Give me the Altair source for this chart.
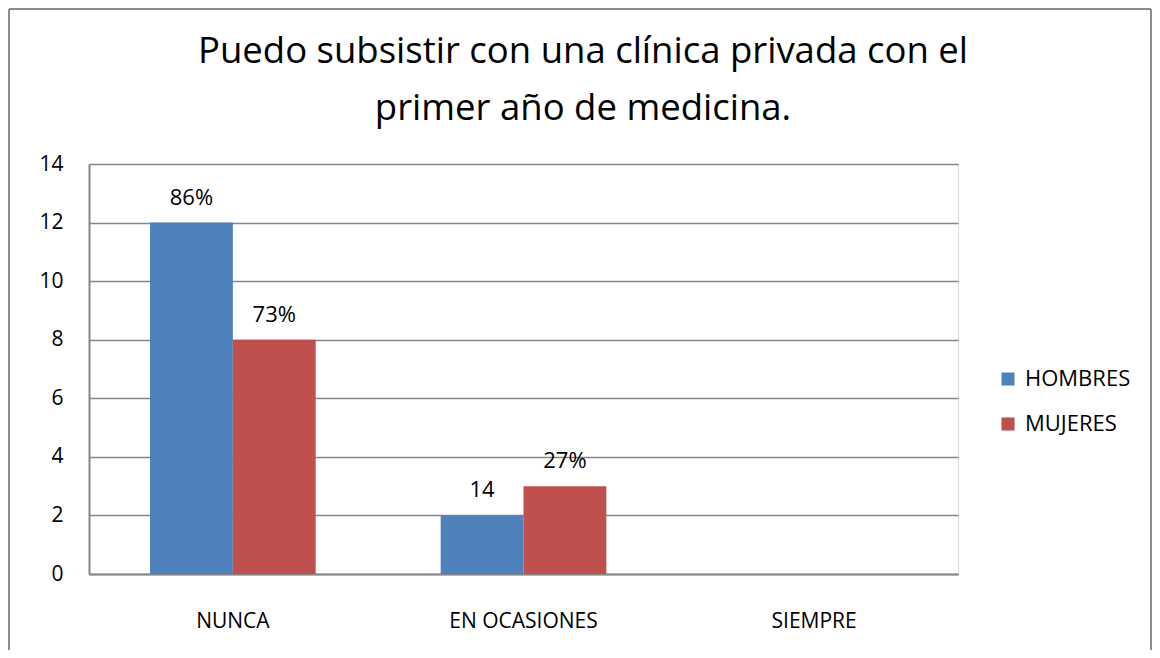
import altair as alt
import pandas as pd

categorias = ["NUNCA", "EN OCASIONES", "SIEMPRE"]
series = ["HOMBRES", "MUJERES"]
hombres = [12, 2, 0]
mujeres = [8, 3, 0]
etiquetas_hombres = ["86%", "14", ""]
etiquetas_mujeres = ["73%", "27%", ""]
colores = ["#4F81BD", "#C0504D"]
titulo = ["Puedo subsistir con una clínica privada con el", "primer año de medicina."]

filas = []
for i, c in enumerate(categorias):
    filas.append({"categoria": c, "serie": series[0], "valor": hombres[i], "etiqueta": etiquetas_hombres[i]})
    filas.append({"categoria": c, "serie": series[1], "valor": mujeres[i], "etiqueta": etiquetas_mujeres[i]})
df = pd.DataFrame(filas)

FONT = "Open Sans"
GRIS = "#878787"

base = alt.Chart(df).encode(
    x=alt.X(
        "categoria:N",
        sort=categorias,
        scale=alt.Scale(paddingInner=0.43, paddingOuter=0.21),
        axis=alt.Axis(
            title=None, labelAngle=0, ticks=False, labelPadding=36,
            labelFontSize=21, labelFont=FONT, labelColor="#000000",
            domainColor=GRIS, domainWidth=2,
        ),
    ),
    xOffset=alt.XOffset("serie:N", sort=series, scale=alt.Scale(paddingInner=0, paddingOuter=0)),
    y=alt.Y(
        "valor:Q",
        scale=alt.Scale(domain=[0, 14], nice=False),
        axis=alt.Axis(
            title=None, values=[0, 2, 4, 6, 8, 10, 12, 14], ticks=False,
            labelPadding=26, labelFontSize=21, labelFont=FONT, labelColor="#000000",
            domainColor=GRIS, domainWidth=2, gridColor=GRIS, gridWidth=1.5,
        ),
    ),
)

barras = base.mark_bar().encode(
    color=alt.Color(
        "serie:N", sort=series,
        scale=alt.Scale(domain=series, range=colores),
        legend=alt.Legend(
            title=None, orient="none", legendX=908, legendY=204,
            symbolType="square", symbolSize=170, symbolStrokeWidth=0,
            labelFontSize=22, labelFont=FONT, labelColor="#000000",
            rowPadding=23, labelOffset=6,
        ),
    )
)

textos = base.mark_text(baseline="bottom", dy=-13, fontSize=22, font=FONT, color="#000000").encode(
    text="etiqueta:N"
)

# title as two text lines
tdf = pd.DataFrame({"linea": titulo, "orden": [0, 1]})
titulo1 = alt.Chart(tdf.iloc[[0]]).mark_text(
    fontSize=36.5, font=FONT, color="#000000", baseline="alphabetic", align="center"
).encode(text="linea:N", x=alt.value(494), y=alt.value(-101))
titulo2 = alt.Chart(tdf.iloc[[1]]).mark_text(
    fontSize=36.5, font=FONT, color="#000000", baseline="alphabetic", align="center"
).encode(text="linea:N", x=alt.value(494), y=alt.value(-44))

# outer frame
mdf = pd.DataFrame({"m": [0]})
FR = "#8c8c8c"
marco_sup = alt.Chart(mdf).mark_rule(color=FR, strokeWidth=2).encode(
    x=alt.value(-80), x2=alt.value(1062), y=alt.value(-155))
marco_izq = alt.Chart(mdf).mark_rule(color=FR, strokeWidth=2).encode(
    x=alt.value(-80), y=alt.value(-155), y2=alt.value(560))
marco_der = alt.Chart(mdf).mark_rule(color=FR, strokeWidth=2).encode(
    x=alt.value(1062), y=alt.value(-155), y2=alt.value(560))

chart = alt.layer(marco_sup, marco_izq, marco_der, barras, textos, titulo1, titulo2).properties(
    width=869,
    height=410,
    autosize=alt.AutoSizeParams(type="none"),
    padding={"left": 81, "top": 156, "right": 194, "bottom": 76},
).configure_view(stroke=None).configure(background="#ffffff")

chart.save("out.html", embed_options={"renderer": "svg", "actions": False})
